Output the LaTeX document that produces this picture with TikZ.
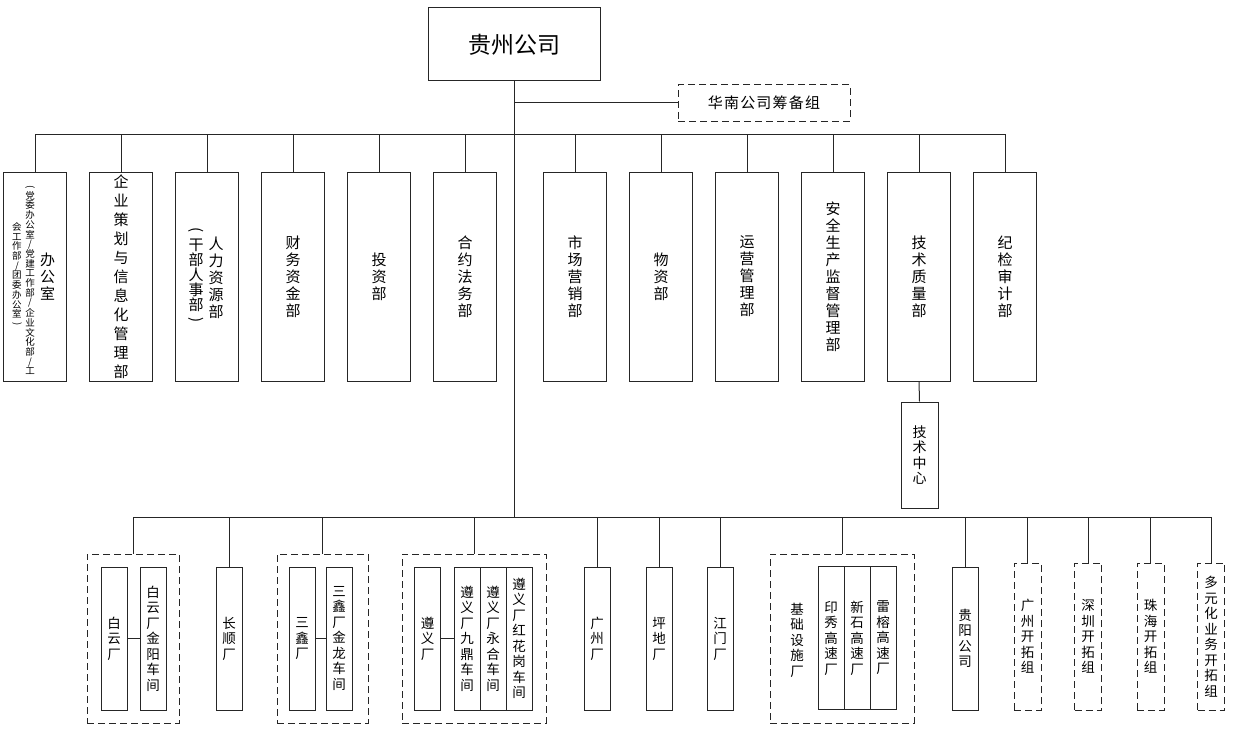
\documentclass[tikz,border=0pt]{standalone}
\usepackage{fontspec}
\setmainfont{Noto Sans CJK SC}
\usetikzlibrary{positioning}

% stack the characters of a text one under the other
\ExplSyntaxOn
\NewDocumentCommand \vt { m }
  {
    \tl_set:No \l_tmpa_tl { #1 }
    \seq_clear:N \l_tmpa_seq
    \tl_map_inline:Nn \l_tmpa_tl { \seq_put_right:Nn \l_tmpa_seq { ##1 } }
    \seq_use:Nn \l_tmpa_seq { \\ }
  }
\ExplSyntaxOff
% vertical brackets
\newcommand\vopen{\rotatebox[origin=c]{-90}{(}}
\newcommand\vclose{\rotatebox[origin=c]{-90}{)}}

\begin{document}
\begin{tikzpicture}[x=1pt, y=-1pt,
    line/.style={draw=black!85, line width=1pt},
    dashline/.style={line, dash pattern=on 7pt off 4pt},
    dept/.style={line, rectangle, inner sep=0pt, align=center,
                 minimum width=63pt, minimum height=209pt,
                 font=\fontsize{15}{17}\selectfont},
    unit/.style={line, rectangle, inner sep=0pt, align=center,
                 minimum width=26pt, minimum height=143pt,
                 font=\fontsize{13.5}{15.5}\selectfont},
    prep/.style={unit, dashline, minimum width=27pt, minimum height=147pt},
    group/.style={dashline, rectangle, inner sep=0pt, minimum height=169pt},
    vlab/.style={align=center, inner sep=0pt},
]
\useasboundingbox (0,0) rectangle (1238,733);

\node[line, minimum width=172pt, minimum height=73pt,
      font=\fontsize{23}{23}\selectfont] (gz) at (514,44.5) {贵州公司};
\node[dashline, minimum width=172pt, minimum height=36pt,
      font=\fontsize{15}{15}\selectfont\addfontfeature{LetterSpace=8}] (hn) at (764,103) {华南公司筹备组};

\coordinate (topbus) at (514,134);
\coordinate (botbus) at (514,517);

% departments
\node[dept] (d1) at (35,276.5) {};
\node[vlab, font=\fontsize{15}{17}\selectfont] at (47.5,277) {\vt{办公室}};
\node[vlab, font=\fontsize{9.5}{9.7}\selectfont] at (30,280) {\vt{{\vopen}党委办公室/党建工作部/企业文化部/工}};
\node[vlab, font=\fontsize{9.5}{9.7}\selectfont] at (17,275) {\vt{会工作部/团委办公室{\vclose}}};
\node[dept, font=\fontsize{15}{19}\selectfont] (d2) at (121,276.5) {\vt{企业策划与信息化管理部}};
\node[dept] (d3) at (207,276.5) {};
\node[vlab, font=\fontsize{15}{17}\selectfont] at (216,278) {\vt{人力资源部}};
\node[vlab, font=\fontsize{15}{15}\selectfont] at (196,276.5) {\vt{{\vopen}干部人事部{\vclose}}};
\foreach \x/\n/\t in {293/d4/财务资金部, 379/d5/投资部, 465/d6/合约法务部,
                      575/d7/市场营销部, 661/d8/物资部, 747/d9/运营管理部,
                      833/d10/安全生产监督管理部, 919/d11/技术质量部, 1005/d12/纪检审计部}
  \node[dept] (\n) at (\x,276.5) {\vt{\t}};

\node[line, rectangle, inner sep=0pt, align=center, minimum width=37pt, minimum height=106pt,
      font=\fontsize{14}{15.5}\selectfont] (tc) at (919.5,455) {\vt{技术中心}};

% plants and groups
\node[group, minimum width=92pt] (bygrp) at (133,638.5) {};
\node[unit] (by)  at (114,638.5) {\vt{白云厂}};
\node[unit] (byj) at (153,638.5) {\vt{白云厂金阳车间}};
\node[unit] (cs)  at (229,638.5) {\vt{长顺厂}};
\node[group, minimum width=91pt] (sxgrp) at (322.5,638.5) {};
\node[unit] (sx)  at (302,638.5) {\vt{三鑫厂}};
\node[unit] (sxj) at (339,638.5) {\vt{三鑫厂金龙车间}};
\node[group, minimum width=144pt] (zygrp) at (474,638.5) {};
\node[unit] (zy)  at (427.5,638.5) {\vt{遵义厂}};
\node[unit] (zyj) at (467,638.5) {\vt{遵义厂九鼎车间}};
\node[unit] (zyy) at (493,638.5) {\vt{遵义厂永合车间}};
\node[unit] (zyh) at (519,638.5) {\vt{遵义厂红花岗车间}};
\node[unit] (gzc) at (597,638.5) {\vt{广州厂}};
\node[unit] (pd)  at (659,638.5) {\vt{坪地厂}};
\node[unit] (jm)  at (720,638.5) {\vt{江门厂}};
\node[group, minimum width=144pt] (jcgrp) at (842,638.5) {};
\node[vlab, font=\fontsize{13.5}{15.5}\selectfont] (jc) at (797,640) {\vt{基础设施厂}};
\node[unit] (yx)  at (831,638) {\vt{印秀高速厂}};
\node[unit] (xs)  at (857,638) {\vt{新石高速厂}};
\node[unit] (lr)  at (883,638) {\vt{雷榕高速厂}};
\node[unit] (gy)  at (965,638.5) {\vt{贵阳公司}};
\node[prep] (gzk) at (1027.5,636.5) {\vt{广州开拓组}};
\node[prep] (szk) at (1088,636.5) {\vt{深圳开拓组}};
\node[prep] (zhk) at (1150.5,636.5) {\vt{珠海开拓组}};
\node[prep] (dyk) at (1211,636.5) {\vt{多元化业务开拓组}};

% connectors
\draw[line] (gz.south) -- (botbus);
\draw[line] (gz.south |- hn.west) -- (hn.west);
\draw[line] (d1.north |- topbus) -- (d12.north |- topbus);
\foreach \n in {d1,d2,d3,d4,d5,d6,d7,d8,d9,d10,d11,d12}
  \draw[line] (\n.north) -- (\n.north |- topbus);
\draw[line] (d11.south) -- (tc.north);

\draw[line] (bygrp.north |- botbus) -- (dyk.north |- botbus);
\foreach \n in {bygrp,cs,sxgrp,zygrp,gzc,pd,jm,jcgrp,gy,gzk,szk,zhk,dyk}
  \draw[line] (\n.north) -- (\n.north |- botbus);
\draw[line] (by.east) -- (byj.west);
\draw[line] (sx.east) -- (sxj.west);
\draw[line] (zy.east) -- (zyj.west);
\end{tikzpicture}
\end{document}
